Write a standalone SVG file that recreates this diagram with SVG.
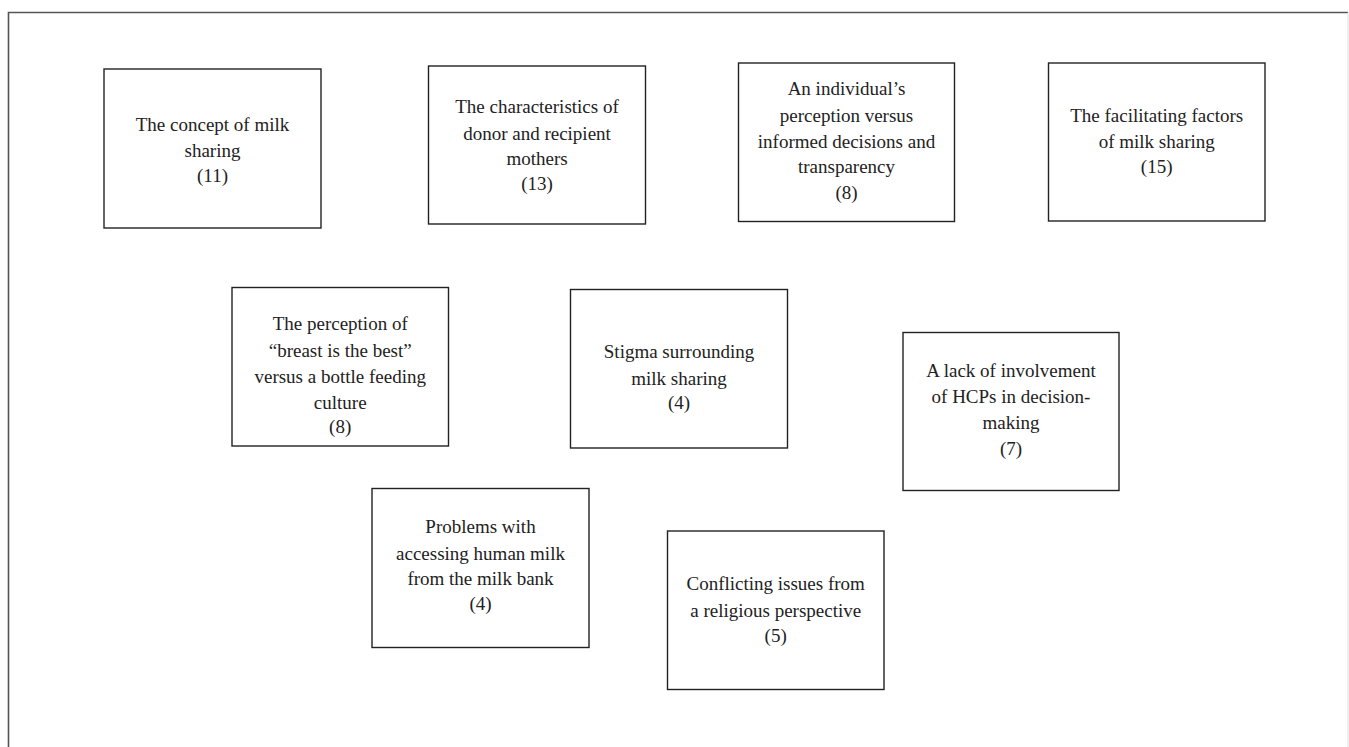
<svg xmlns="http://www.w3.org/2000/svg" width="1349" height="747" viewBox="0 0 1349 747">
<style>
.box{fill:#fff;stroke:#222;stroke-width:1.4}
.frame{stroke:#555;stroke-width:1.6;fill:none}
.t{font-family:"Liberation Serif","Times New Roman",serif;font-size:19px;fill:#222;text-anchor:middle}
</style>
<rect width="1349" height="747" fill="#fff"/>
<g id="frame">
<path class="frame" d="M8.5,747 V12.5 H1348"/>
<line x1="1348" y1="12.5" x2="1348" y2="747" stroke="#ddd" stroke-width="1"/>
</g>
<g id="connectors"></g>
<g id="n1">
<rect class="box" x="104" y="69" width="217" height="159"/>
<text class="t"><tspan x="212.5" y="131">The concept of milk</tspan><tspan x="212.5" y="157">sharing</tspan><tspan x="212.5" y="182">(11)</tspan></text>
</g>
<g id="n2">
<rect class="box" x="428.5" y="66" width="217" height="158"/>
<text class="t"><tspan x="537" y="113">The characteristics of</tspan><tspan x="537" y="140">donor and recipient</tspan><tspan x="537" y="165">mothers</tspan><tspan x="537" y="190">(13)</tspan></text>
</g>
<g id="n3">
<rect class="box" x="738.5" y="63" width="216" height="158.5"/>
<text class="t"><tspan x="846.5" y="95">An individual’s</tspan><tspan x="846.5" y="121.5">perception versus</tspan><tspan x="846.5" y="148">informed decisions and</tspan><tspan x="846.5" y="173">transparency</tspan><tspan x="846.5" y="199">(8)</tspan></text>
</g>
<g id="n4">
<rect class="box" x="1048.5" y="63" width="216.5" height="158"/>
<text class="t"><tspan x="1156.7" y="121.5">The facilitating factors</tspan><tspan x="1156.7" y="148">of milk sharing</tspan><tspan x="1156.7" y="173">(15)</tspan></text>
</g>
<g id="n5">
<rect class="box" x="232" y="287.5" width="216.5" height="158.5"/>
<text class="t"><tspan x="340.2" y="330">The perception of</tspan><tspan x="340.2" y="357">“breast is the best”</tspan><tspan x="340.2" y="383">versus a bottle feeding</tspan><tspan x="340.2" y="409">culture</tspan><tspan x="340.2" y="433">(8)</tspan></text>
</g>
<g id="n6">
<rect class="box" x="570.5" y="289.5" width="217" height="158.5"/>
<text class="t"><tspan x="679" y="358">Stigma surrounding</tspan><tspan x="679" y="384.5">milk sharing</tspan><tspan x="679" y="409">(4)</tspan></text>
</g>
<g id="n7">
<rect class="box" x="903" y="332.5" width="216" height="158"/>
<text class="t"><tspan x="1011" y="376.5">A lack of involvement</tspan><tspan x="1011" y="403">of HCPs in decision-</tspan><tspan x="1011" y="429">making</tspan><tspan x="1011" y="455">(7)</tspan></text>
</g>
<g id="n8">
<rect class="box" x="372" y="488.5" width="217" height="159"/>
<text class="t"><tspan x="480.5" y="533">Problems with</tspan><tspan x="480.5" y="559.5">accessing human milk</tspan><tspan x="480.5" y="585">from the milk bank</tspan><tspan x="480.5" y="610">(4)</tspan></text>
</g>
<g id="n9">
<rect class="box" x="667.5" y="531" width="216.5" height="158.5"/>
<text class="t"><tspan x="775.7" y="590">Conflicting issues from</tspan><tspan x="775.7" y="616.5">a religious perspective</tspan><tspan x="775.7" y="642">(5)</tspan></text>
</g>
</svg>
